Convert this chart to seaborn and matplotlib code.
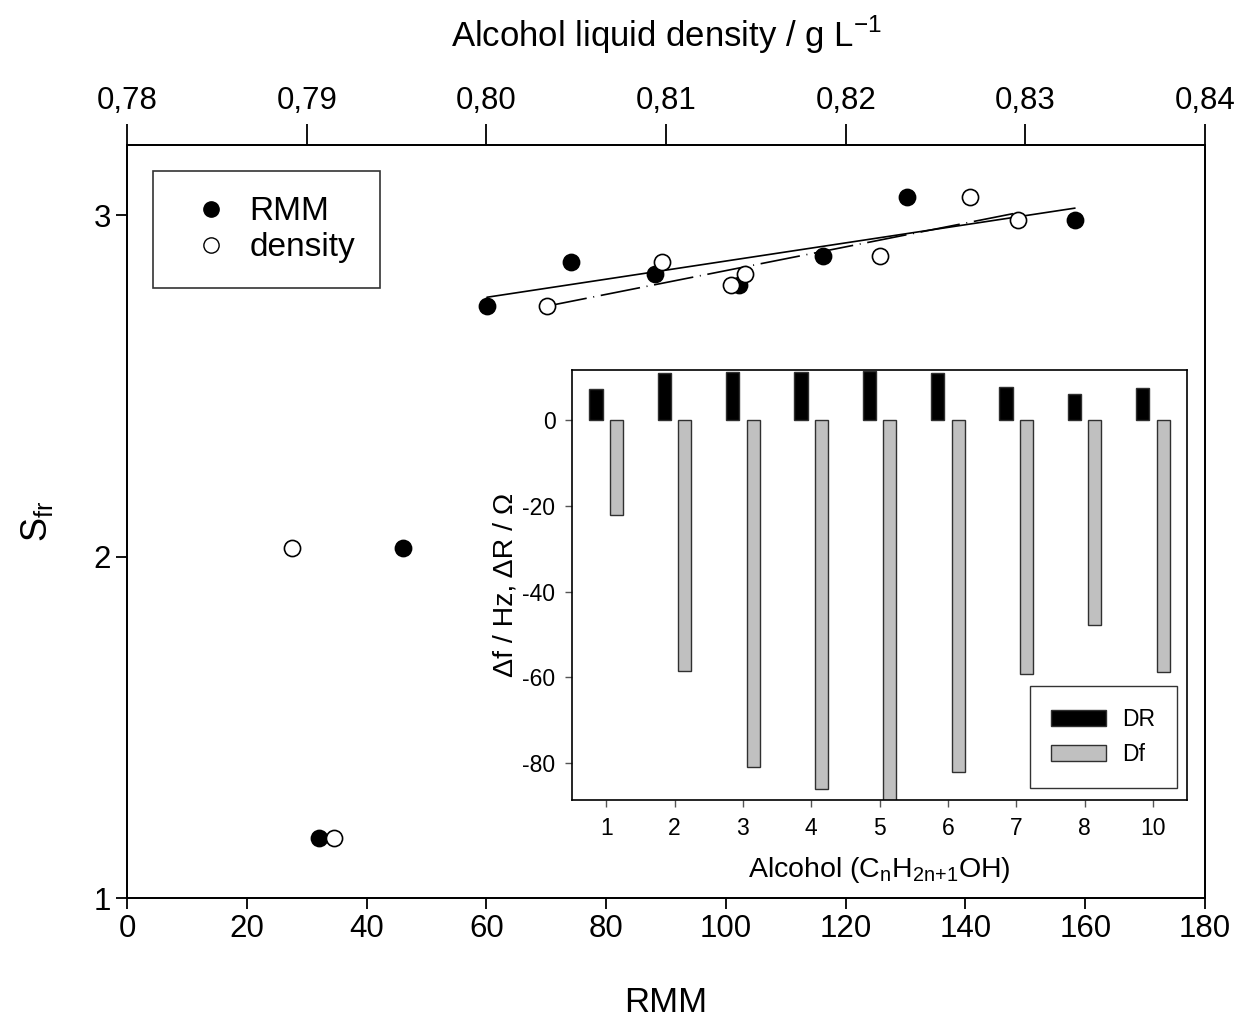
import numpy as np
import pandas as pd
import matplotlib
matplotlib.use("Agg")
import matplotlib.pyplot as plt
from matplotlib.ticker import FuncFormatter
from matplotlib.lines import Line2D
import seaborn as sns

# main plot data: S_fr vs RMM (bottom axis) and vs density (top axis)
rmm = [32.04, 46.07, 60.10, 74.12, 88.15, 102.17, 116.20, 130.23, 158.28]
density = [0.7915, 0.7892, 0.8034, 0.8098, 0.8144, 0.8136, 0.8219, 0.8269, 0.8296]
s_fr = [1.176, 2.025, 2.733, 2.862, 2.827, 2.795, 2.880, 3.053, 2.985]

# inset data: shifts per alcohol
alcohols = ["1", "2", "3", "4", "5", "6", "7", "8", "10"]
delta_r = [7.2, 10.9, 11.2, 11.3, 11.4, 11.1, 7.8, 6.0, 7.5]
delta_f = [-22.2, -58.5, -81.0, -86.0, -95.0, -82.0, -59.3, -47.8, -58.8]

sns.set_style("ticks")
plt.rcParams['font.family'] = ['Liberation Sans', 'DejaVu Sans']
plt.rcParams['mathtext.fontset'] = 'custom'
plt.rcParams['mathtext.rm'] = 'Liberation Sans'
plt.rcParams['axes.unicode_minus'] = False
plt.rcParams['axes.linewidth'] = 1.3
for k in ['text.color', 'axes.labelcolor', 'xtick.color', 'ytick.color', 'axes.edgecolor']:
    plt.rcParams[k] = 'black'

fig = plt.figure(figsize=(12.49, 10.25), dpi=100)
ax = fig.add_axes([0.1017, 0.1239, 0.8631, 0.7346])

main = pd.DataFrame({"rmm": rmm, "density": density, "s_fr": s_fr})

sns.scatterplot(data=main, x="rmm", y="s_fr", ax=ax, s=135, color="black",
                edgecolor="black", linewidth=1.2, zorder=3)
ax.set_xlim(0, 180)
ax.set_ylim(1, 3.205)
ax.set_xticks(np.arange(0, 181, 20))
ax.set_yticks([1, 2, 3])
ax.tick_params(axis="both", labelsize=22.5, length=8, width=1.3, color="black",
               bottom=True, left=True, direction="out")
ax.set_xlabel("RMM", fontsize=25, labelpad=30)
ax.set_ylabel(r"$\mathregular{S_{fr}}$", fontsize=26, labelpad=28)

# linear fits for n >= 3
fit = main.iloc[2:]
p1 = np.polyfit(fit["rmm"], fit["s_fr"], 1)
xr = np.array([fit["rmm"].min(), fit["rmm"].max()])
ax.plot(xr, np.polyval(p1, xr), color="black", lw=1.2, zorder=2)

ax_top = ax.twiny()
sns.scatterplot(data=main, x="density", y="s_fr", ax=ax_top, s=135, color="white",
                edgecolor="black", linewidth=1.2, zorder=3)
p2 = np.polyfit(fit["density"], fit["s_fr"], 1)
xd = np.array([fit["density"].min(), fit["density"].max()])
ax_top.plot(xd, np.polyval(p2, xd), color="black", lw=1.2,
            linestyle=(0, (24, 4, 0.6, 4)), zorder=2)
ax_top.set_xlim(0.78, 0.84)
ax_top.set_xticks(np.linspace(0.78, 0.84, 7))
ax_top.xaxis.set_major_formatter(FuncFormatter(lambda v, p: f"{v:.2f}".replace(".", ",")))
ax_top.tick_params(axis="x", labelsize=22.5, length=15, width=1.3, color="black", pad=6)
ax_top.set_xlabel(r"Alcohol liquid density / g L$^{\mathregular{-1}}$", fontsize=25, labelpad=28)
for a in (ax, ax_top):
    for sp in a.spines.values():
        sp.set_color("black")
        sp.set_linewidth(1.3)

handles = [Line2D([], [], marker="o", ls="", markersize=11, markerfacecolor="black",
                  markeredgecolor="black"),
           Line2D([], [], marker="o", ls="", markersize=11, markerfacecolor="white",
                  markeredgecolor="black")]
leg = ax_top.legend(handles, ["RMM", "density"], loc="upper left",
                    bbox_to_anchor=(0.024, 0.965), borderaxespad=0, fontsize=24,
                    frameon=True, fancybox=False, edgecolor="black", borderpad=0.75,
                    handletextpad=0.15, labelspacing=0.15, handlelength=2.0)
leg.get_frame().set_linewidth(1.2)

# inset bar chart
ins = fig.add_axes([0.458, 0.2195, 0.4924, 0.4195])
bars = pd.DataFrame({
    "alcohol": alcohols * 2,
    "value": delta_r + delta_f,
    "series": ["DR"] * len(alcohols) + ["Df"] * len(alcohols),
})
sns.barplot(data=bars, x="alcohol", y="value", hue="series", ax=ins,
            palette={"DR": "black", "Df": "#c0c0c0"}, width=0.6, gap=0.36,
            edgecolor="#303030", linewidth=1.0, saturation=1)
ins.set_xlim(-0.5, 8.5)
ins.set_ylim(-88.6, 11.7)
ins.set_yticks([0, -20, -40, -60, -80])
ins.tick_params(axis="both", labelsize=16.5, length=5, width=1.0, color="#555555",
                bottom=True, left=True, pad=7)
ins.set_xlabel(r"Alcohol (C$_{\mathregular{n}}$H$_{\mathregular{2n{+}1}}$OH)", fontsize=20.5, labelpad=11)
ins.set_ylabel("Δf / Hz, ΔR / Ω", fontsize=20.5, labelpad=3)
for sp in ins.spines.values():
    sp.set_visible(True)
    sp.set_color("black")
    sp.set_linewidth(1.2)
h, l = ins.get_legend_handles_labels()
ileg = ins.legend(h, l, loc="lower right", bbox_to_anchor=(0.984, 0.028), borderaxespad=0,
                  fontsize=16.5, frameon=True, fancybox=False, edgecolor="black",
                  handlelength=2.4, handletextpad=0.7, borderpad=0.95, labelspacing=0.55,
                  title=None)
ileg.get_frame().set_linewidth(1.0)

fig.savefig("out.png", dpi=100)
